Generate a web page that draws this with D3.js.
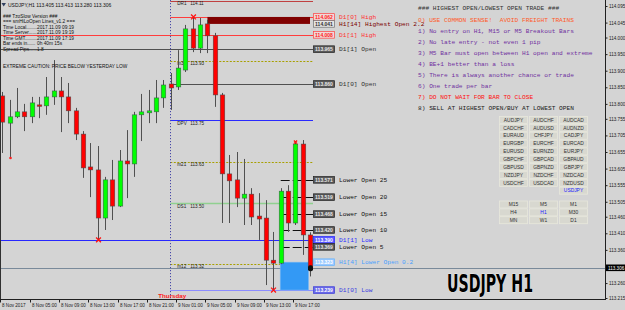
<!DOCTYPE html>
<html>
<head>
<meta charset="utf-8">
<script src="https://cdn.jsdelivr.net/npm/d3@7"></script>
<style>
body { margin: 0; background: #d4d4d4; }
svg { display: block; }
</style>
</head>
<body>
<svg id="chart"></svg>
<script>
var W = 625, H = 310;
var PLOT_RIGHT = 605, PLOT_BOTTOM = 299;

// hourly bars, 8 Nov 01:00 .. 9 Nov 19:00
var opens  = [113.824,113.742,113.761,113.776,113.761,113.797,113.794,113.821,113.839,113.821,113.779,113.709,113.610,113.601,113.456,113.571,113.492,113.628,113.619,113.767,113.773,113.776,113.818,
              113.860,113.851,113.902,114.026,113.968,114.041,114.005,113.827,113.589,113.571,113.516,113.528,113.462,113.456,113.329,113.320,113.537,113.441,113.679,113.405];
var highs  = [113.836,113.812,113.848,113.800,113.821,113.821,113.881,113.932,113.881,113.863,113.788,113.718,113.682,113.673,113.580,113.631,113.661,113.721,113.776,113.830,113.842,113.872,113.872,
              113.893,113.962,114.038,114.062,114.059,114.053,114.014,113.833,113.646,113.655,113.634,113.546,113.531,113.510,113.414,113.546,113.555,113.685,113.691,113.413];
var lows   = [113.652,113.640,113.757,113.718,113.742,113.757,113.767,113.797,113.715,113.742,113.691,113.577,113.519,113.390,113.420,113.450,113.489,113.516,113.580,113.688,113.742,113.742,113.788,
              113.782,113.842,113.896,113.956,113.953,113.953,113.791,113.441,113.441,113.489,113.435,113.435,113.390,113.254,113.239,113.317,113.414,113.435,113.345,113.280];
var closes = [113.745,113.761,113.776,113.761,113.803,113.794,113.821,113.839,113.821,113.779,113.709,113.607,113.601,113.456,113.571,113.492,113.628,113.619,113.767,113.776,113.779,113.818,113.857,
              113.848,113.908,114.026,113.968,114.038,114.005,113.827,113.589,113.568,113.516,113.528,113.459,113.453,113.329,113.320,113.537,113.441,113.679,113.405,113.306];

var timeTickBars = [0, 4, 8, 12, 16, 20, 24, 28, 32, 36, 40];
var timeTickLabels = ["8 Nov 2017","8 Nov 05:00","8 Nov 09:00","8 Nov 13:00","8 Nov 17:00","8 Nov 21:00",
                      "9 Nov 01:00","9 Nov 05:00","9 Nov 09:00","9 Nov 13:00","9 Nov 17:00"];
var priceTicks = [114.095,114.045,114.000,113.950,113.900,113.850,113.800,113.755,113.705,113.655,
                  113.605,113.555,113.505,113.460,113.410,113.360,113.260,113.215];
var lastPrice = 113.306;
var daySeparatorBar = 23;

var levelNames  = ["D1[0] High","H1[14] Highest Open 2.2","D1[1] High","D1[1] Open","D1[0] Open",
                   "Lower Open 25","Lower Open 20","Lower Open 15","Lower Open 10","D1[1] Low",
                   "Lower Open 5","H1[4] Lower Open 0.2","D1[0] Low"];
var levelPrices = [114.062,114.041,114.008,113.965,113.860,113.571,113.519,113.468,113.420,113.390,113.369,113.323,113.239];
var levelKinds  = ["high","hopen","high","open","open","lower","lower","lower","lower","low","lower","lopen","low0"];

var pivotNames  = ["DR1","m32","DPV","m21","DS1","m12"];
var pivotPrices = [114.11,113.93,113.75,113.625,113.50,113.318];
var pivotKinds  = ["r","m","p","m","s","m"];

var highestOpenBar = 28, lowerOpenBar = 38;
var markerBars  = [1, 13, 26, 37, 40];
var markerSides = ["low","low","high","low","high"];

var infoLabels = ["Time Local........","Time Server......","Time GMT.........","Bar ends in......","Spread Pips......"];
var infoValues = ["2017.11.09 09:19","2017.11.09 19:19","2017.11.09 17:19","0h 40m 15s","1.8"];

var rules = ["### HIGHEST OPEN/LOWEST OPEN TRADE ###",
             "0) USE COMMON SENSE!  AVOID FREIGHT TRAINS",
             "1) No entry on H1, M15 or M5 Breakout Bars",
             "2) No late entry - not even 1 pip",
             "3) M5 Bar must open between H1 open and extreme",
             "4) BE+1 better than a loss",
             "5) There is always another chance or trade",
             "6) One trade per bar",
             "7) DO NOT WAIT FOR BAR TO CLOSE",
             "8) SELL AT HIGHEST OPEN/BUY AT LOWEST OPEN"];
var ruleColors = ["#303030","#ff5a28","#7030a0","#7030a0","#7030a0","#7030a0","#7030a0","#7030a0","#ff1010","#202020"];

var pairButtons = ["AUDJPY","AUDCHF","AUDCAD","CADCHF","AUDUSD","AUDNZD","EURAUD","CHFJPY","CADJPY",
                   "EURGBP","EURCHF","EURCAD","EURUSD","EURNZD","EURJPY","GBPCHF","GBPCAD","GBPAUD",
                   "GBPUSD","GBPNZD","GBPJPY","NZDJPY","NZDCHF","NZDCAD","USDCHF","USDCAD","NZDUSD",
                   "","","USDJPY"];
var tfButtons = ["M15","M5","M1","H4","H1","M30","MN","W1","D1"];
var activeSymbol = "USDJPY", activeTf = "H1";

var MONO = "'Liberation Mono','DejaVu Sans Mono',monospace";
var SANS = "'Liberation Sans','DejaVu Sans',sans-serif";

var svg = d3.select("#chart").attr("width", W).attr("height", H);
svg.append("rect").attr("width", W).attr("height", H).attr("fill", "#d4d4d4");

var x = d3.scaleLinear().domain([0, 42]).range([2.3, 310]);
var y = d3.scaleLinear().domain([113.215, 114.095]).range([298, 6]);
var sepX = x(daySeparatorBar) - 0.5;
var labelX = 313;

function px(v) { return Math.round(v) + 0.5; }

// ---- levels drawn behind the bars
var levels = levelNames.map(function(n, i) {
  return { name: n, price: levelPrices[i], kind: levelKinds[i] };
});
var lineStyle = {
  high:  { stroke: "#ff3c3c", from: 0 },
  hopen: { stroke: "#800000", from: x(highestOpenBar) },
  open:  { stroke: "#505050", from: 0 },
  lower: { stroke: "#101010", from: x(lowerOpenBar), dash: "9,3" },
  low:   { stroke: "#2828ff", from: 0 },
  lopen: { stroke: "#66b3ff", from: x(lowerOpenBar) },
  low0:  { stroke: "#8c8cff", from: sepX }
};
function lineFrom(d) {
  if (d.name.indexOf("D1[0]") === 0) return sepX;
  return lineStyle[d.kind].from;
}

var pivots = pivotNames.map(function(n, i) { return { name: n, price: pivotPrices[i], kind: pivotKinds[i] }; });
var pivotColor = { r: "#c04040", m: "#a8a000", p: "#2a2aff", s: "#90d090" };

var gLev = svg.append("g");
gLev.selectAll("line.pv").data(pivots).enter().append("line")
  .attr("x1", sepX).attr("x2", labelX)
  .attr("y1", function(d) { return px(y(d.price)); })
  .attr("y2", function(d) { return px(y(d.price)); })
  .attr("stroke", function(d) { return pivotColor[d.kind]; })
  .attr("stroke-width", function(d) { return d.kind === "s" ? 1.4 : 1; })
  .attr("stroke-dasharray", function(d) { return d.kind === "m" ? "2,1.5" : null; });
gLev.selectAll("text.pv").data(pivots).enter().append("text")
  .attr("x", sepX + 7).attr("y", function(d) { return y(d.price) + 4.3; })
  .attr("font-family", SANS).attr("font-size", 4.6).attr("fill", "#202020")
  .text(function(d) { return d.name; });
gLev.selectAll("text.pvv").data(pivots).enter().append("text")
  .attr("x", sepX + 20).attr("y", function(d) { return y(d.price) + 4.3; })
  .attr("font-family", SANS).attr("font-size", 4.6).attr("fill", "#202020")
  .text(function(d) { return d.price.toFixed(2); });

// last price line across the whole plot
svg.append("line").attr("x1", 0).attr("x2", PLOT_RIGHT)
  .attr("y1", px(y(lastPrice))).attr("y2", px(y(lastPrice)))
  .attr("stroke", "#7a8a9a");

gLev.selectAll("line.lv").data(levels.filter(function(d) { return d.kind !== "hopen" && d.kind !== "lopen"; }))
  .enter().append("line")
  .attr("x1", lineFrom).attr("x2", labelX)
  .attr("y1", function(d) { return px(y(d.price)); })
  .attr("y2", function(d) { return px(y(d.price)); })
  .attr("stroke", function(d) { return lineStyle[d.kind].stroke; })
  .attr("stroke-dasharray", function(d) { return lineStyle[d.kind].dash || null; });

// highest open / lower open zones
var dHigh = levels[0], dHopen = levels[1], dLopen = levels[11], dLow0 = levels[12];
svg.append("rect")
  .attr("x", x(highestOpenBar)).attr("width", x(42) - x(highestOpenBar))
  .attr("y", y(dHigh.price)).attr("height", y(dHopen.price) - y(dHigh.price))
  .attr("fill", "#800000");
svg.append("rect")
  .attr("x", x(lowerOpenBar) - 0.5).attr("width", x(42) - x(lowerOpenBar) - 1)
  .attr("y", y(dLopen.price)).attr("height", y(dLow0.price) - y(dLopen.price))
  .attr("fill", "#3399f5").attr("stroke", "#7ab8f5").attr("stroke-width", 0.6);

// day separator
svg.append("line").attr("x1", px(sepX)).attr("x2", px(sepX)).attr("y1", 0).attr("y2", PLOT_BOTTOM)
  .attr("stroke", "#4848a8").attr("stroke-dasharray", "1.2,1.8");

// ---- candles
var bars = opens.map(function(o, i) {
  return { i: i, o: o, h: highs[i], l: lows[i], c: closes[i] };
});
var gBars = svg.append("g");
gBars.selectAll("line").data(bars).enter().append("line")
  .attr("x1", function(d) { return px(x(d.i)); })
  .attr("x2", function(d) { return px(x(d.i)); })
  .attr("y1", function(d) { return y(d.h); })
  .attr("y2", function(d) { return y(d.l); })
  .attr("stroke", "#505050").attr("stroke-width", 1);
gBars.selectAll("rect").data(bars).enter().append("rect")
  .attr("x", function(d) { return Math.round(x(d.i)) - 1.8; })
  .attr("width", 4.6)
  .attr("y", function(d) { return y(Math.max(d.o, d.c)); })
  .attr("height", function(d) { return Math.max(1.5, Math.abs(y(d.o) - y(d.c))); })
  .attr("fill", function(d) { return d.c >= d.o ? "#00ff00" : "#ff0000"; })
  .attr("stroke", "#3f4f4f").attr("stroke-width", 0.5);

// high / low markers
var gMk = svg.append("g");
markerBars.forEach(function(b, i) {
  var cx = px(x(b)), side = markerSides[i];
  var cy = side === "low" ? y(lows[b]) : y(highs[b]);
  if (i === 0) {
    gMk.append("circle").attr("cx", cx).attr("cy", cy + 1).attr("r", 1.3).attr("fill", "#ff2020");
    return;
  }
  var s = i === 4 ? 1.6 : 2.4;
  gMk.append("path")
    .attr("d", "M" + (cx - s) + "," + (cy - s) + "L" + (cx + s) + "," + (cy + s) +
               "M" + (cx + s) + "," + (cy - s) + "L" + (cx - s) + "," + (cy + s))
    .attr("stroke", "#ff1010").attr("stroke-width", 1.3);
});
// current price arrow on last bar
svg.append("rect").attr("x", px(x(42)) - 2.5).attr("y", y(lastPrice) - 2.5).attr("width", 5).attr("height", 6)
  .attr("rx", 2).attr("fill", "#101010");

// ---- price label boxes on the right of the levels
var boxStyle = {
  high:  { fill: "#f0d8d8", stroke: "#ff4040", text: "#ff2020", label: "#ff3030" },
  hopen: { fill: "#e4e4e4", stroke: "#707070", text: "#303030", label: "#7a0000" },
  open:  { fill: "#5a5a5a", stroke: "#202020", text: "#e8e8e8", label: "#303030" },
  lower: { fill: "#5a5a5a", stroke: "#202020", text: "#e8e8e8", label: "#101010" },
  low:   { fill: "#5a5aff", stroke: "#2020ff", text: "#ffffff", label: "#2a2aff" },
  lopen: { fill: "#9ccaff", stroke: "#66b3ff", text: "#ffffff", label: "#4aa0ff" },
  low0:  { fill: "#6a6ae8", stroke: "#3a3ad8", text: "#ffffff", label: "#3a3ae0" }
};
var gLab = svg.selectAll("g.lab").data(levels).enter().append("g")
  .attr("transform", function(d) { return "translate(" + labelX + "," + y(d.price) + ")"; });
gLab.append("rect").attr("x", 0.5).attr("y", -3.3).attr("width", 21).attr("height", 6.6)
  .attr("fill", function(d) { return boxStyle[d.kind].fill; })
  .attr("stroke", function(d) { return boxStyle[d.kind].stroke; }).attr("stroke-width", 0.7);
gLab.append("text").attr("x", 11).attr("y", 1.9).attr("text-anchor", "middle")
  .attr("font-family", SANS).attr("font-size", 5).attr("font-weight", "bold")
  .attr("fill", function(d) { return boxStyle[d.kind].text; })
  .text(function(d) { return d.price.toFixed(3); });
gLab.append("text").attr("x", 26).attr("y", 2)
  .attr("font-family", MONO).attr("font-size", 6.2)
  .attr("fill", function(d) { return boxStyle[d.kind].label; })
  .text(function(d) { return d.name; });

// ---- frame and axes
svg.append("line").attr("x1", 0.5).attr("x2", 0.5).attr("y1", 0).attr("y2", PLOT_BOTTOM).attr("stroke", "#303030");
svg.append("line").attr("x1", PLOT_RIGHT + 0.5).attr("x2", PLOT_RIGHT + 0.5).attr("y1", 0).attr("y2", PLOT_BOTTOM + 1).attr("stroke", "#202020");
svg.append("line").attr("x1", 0).attr("x2", PLOT_RIGHT + 1).attr("y1", PLOT_BOTTOM + 0.5).attr("y2", PLOT_BOTTOM + 0.5).attr("stroke", "#202020");

var yAxis = svg.append("g").attr("transform", "translate(" + (PLOT_RIGHT + 0.5) + ",0)")
  .call(d3.axisRight(y).tickValues(priceTicks).tickSize(2).tickPadding(1.5).tickFormat(d3.format(".3f")));
yAxis.select(".domain").remove();
yAxis.selectAll("line").attr("stroke", "#202020");
yAxis.selectAll("text").attr("font-family", SANS).attr("font-size", 4.6).attr("fill", "#202020");

svg.append("rect").attr("x", PLOT_RIGHT + 1).attr("y", y(lastPrice) - 3.3).attr("width", 19).attr("height", 6.6).attr("fill", "#000");
svg.append("text").attr("x", PLOT_RIGHT + 3).attr("y", y(lastPrice) + 1.7)
  .attr("font-family", SANS).attr("font-size", 4.6).attr("fill", "#fff").text(lastPrice.toFixed(3));

var xAxis = svg.append("g").attr("transform", "translate(0," + (PLOT_BOTTOM + 0.5) + ")")
  .call(d3.axisBottom(x).tickValues(timeTickBars).tickSize(3).tickPadding(1.5)
    .tickFormat(function(d, i) { return timeTickLabels[i]; }));
xAxis.select(".domain").remove();
xAxis.selectAll(".tick").attr("transform", function(d) { return "translate(" + (Math.round(x(d)) - 1.5) + ",0)"; });
xAxis.selectAll("line").attr("stroke", "#202020");
xAxis.selectAll("text").attr("text-anchor", "start").attr("x", 1.5)
  .attr("font-family", SANS).attr("font-size", 4.6).attr("fill", "#202020");

svg.append("text").attr("x", sepX - 12).attr("y", 297.5)
  .attr("font-family", SANS).attr("font-size", 6.2).attr("font-weight", "bold").attr("fill", "#ff2020")
  .text("Thursday");

// ---- info panel (top left)
svg.append("path").attr("d", "M1.5,3L6,3L3.7,6.5Z").attr("fill", "#304060");
svg.append("text").attr("x", 8).attr("y", 6.5).attr("font-family", SANS).attr("font-size", 5).attr("fill", "#101010")
  .text("USDJPY,H1  113.405 113.413 113.280 113.306");
svg.append("text").attr("x", 3).attr("y", 17.7).attr("font-family", SANS).attr("font-size", 4.8).attr("fill", "#101010")
  .text("### TzoSlow Version ###");
svg.append("text").attr("x", 3).attr("y", 23.2).attr("font-family", SANS).attr("font-size", 4.8).attr("fill", "#101010")
  .text("=== smHiLoOpen Lines_v1.2 ===");
infoLabels.forEach(function(t, i) {
  var yy = 28.7 + i * 5.5;
  svg.append("text").attr("x", 3).attr("y", yy).attr("font-family", SANS).attr("font-size", 4.8).attr("fill", "#101010").text(t);
  svg.append("text").attr("x", 37).attr("y", yy).attr("font-family", SANS).attr("font-size", 4.8).attr("fill", "#101010").text(infoValues[i]);
});
svg.append("text").attr("x", 3).attr("y", 67.7).attr("font-family", SANS).attr("font-size", 4.8).attr("fill", "#101010")
  .text("EXTREME CAUTION: PRICE BELOW YESTERDAY LOW");

// ---- rules (top right)
svg.selectAll("text.rule").data(rules).enter().append("text")
  .attr("x", 418).attr("y", function(d, i) { return i === 0 ? 9.5 : 22 + (i - 1) * 10.95; })
  .attr("font-family", MONO).attr("font-size", 6.2)
  .attr("fill", function(d, i) { return ruleColors[i]; })
  .attr("xml:space", "preserve").style("white-space", "pre")
  .text(function(d) { return d; });

// ---- symbol and timeframe buttons
function buttonGrid(names, top, active) {
  var cells = svg.selectAll(null).data(names).enter().append("g")
    .attr("transform", function(d, i) {
      return "translate(" + (499.5 + (i % 3) * 30) + "," + (top + Math.floor(i / 3) * 7.85) + ")";
    });
  cells.filter(function(d) { return d !== ""; }).append("rect")
    .attr("width", 28).attr("height", 7).attr("fill", "#d8d8d0").attr("stroke", "#e8e8dc").attr("stroke-width", 0.8);
  cells.append("text").attr("x", 14).attr("y", 5.3).attr("text-anchor", "middle")
    .attr("font-family", SANS).attr("font-size", 4.9)
    .attr("fill", function(d) { return d === active ? "#2020ff" : "#303030"; })
    .text(function(d) { return d; });
}
buttonGrid(pairButtons, 116.5, activeSymbol);
buttonGrid(tfButtons, 201, activeTf);

// ---- big symbol caption
svg.append("text").attr("x", 447).attr("y", 292)
  .attr("font-family", "'Liberation Sans Narrow','DejaVu Sans Condensed','Liberation Sans',sans-serif")
  .attr("font-size", 24).attr("font-weight", "bold").attr("fill", "#000")
  .attr("stroke", "#ffffff").attr("stroke-width", 0.6).attr("paint-order", "stroke")
  .attr("textLength", 86).attr("lengthAdjust", "spacingAndGlyphs")
  .text("USDJPY H1");
</script>
</body>
</html>
